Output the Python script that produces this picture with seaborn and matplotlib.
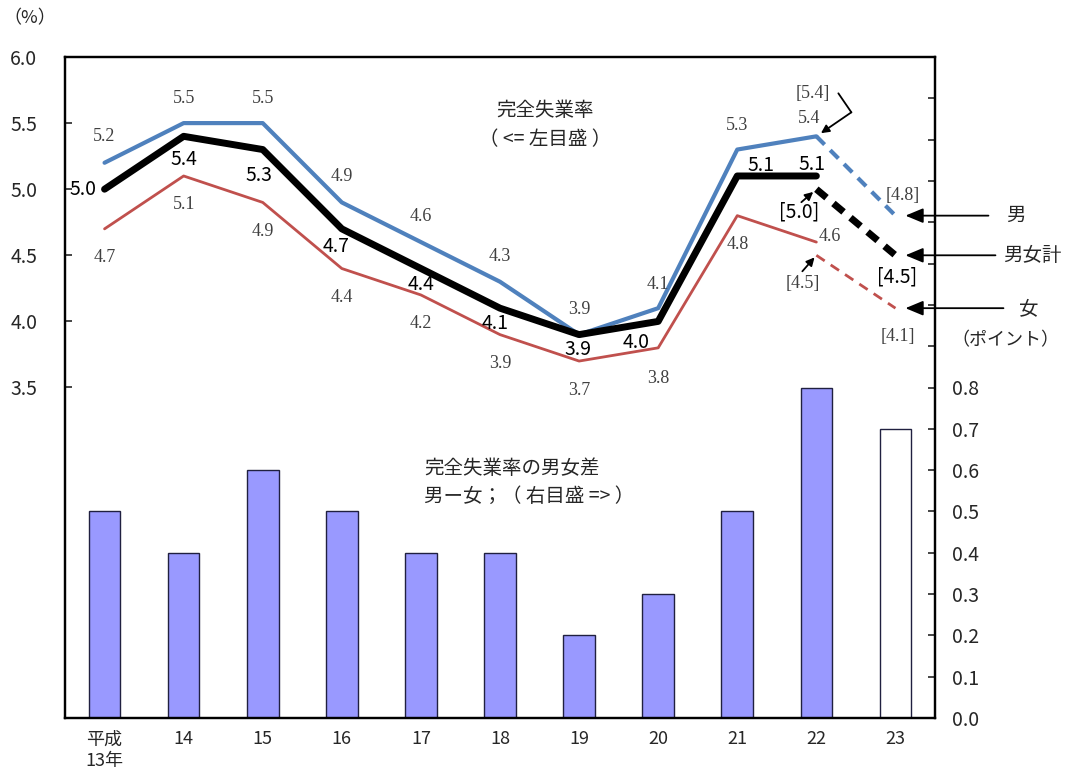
import numpy as np
import pandas as pd
import matplotlib
matplotlib.use("Agg")
import matplotlib.pyplot as plt
from matplotlib.transforms import offset_copy
import seaborn as sns

# --- data ---
years = ["平成\n13年", "14", "15", "16", "17", "18", "19", "20", "21", "22", "23"]
male = [5.2, 5.5, 5.5, 4.9, 4.6, 4.3, 3.9, 4.1, 5.3, 5.4]
total = [5.0, 5.4, 5.3, 4.7, 4.4, 4.1, 3.9, 4.0, 5.1, 5.1]
female = [4.7, 5.1, 4.9, 4.4, 4.2, 3.9, 3.7, 3.8, 4.8, 4.6]
# bracketed values (22 -> 23), drawn dashed
male_est = [5.4, 4.8]
total_est = [5.0, 4.5]
female_est = [4.5, 4.1]
# male - female gap (points), right axis
gap = [0.5, 0.4, 0.6, 0.5, 0.4, 0.4, 0.2, 0.3, 0.5, 0.8, 0.7]

left_ticks = [3.5, 4.0, 4.5, 5.0, 5.5, 6.0]

# label offsets in pixels (dx, dy) relative to each point
male_off = [(0, 26), (0, 25), (0, 25), (0, 26), (0, 26), (0, 25), (0, 25), (0, 24), (0, 24), (-7, 18)]
total_off = [(-22, 0), (0, -23), (-4, -26), (-6, -18), (0, -16), (-5, -15), (-1, -15), (-22, -21), (24, 10), (-4, 11)]
female_off = [(0, -29)] * 7 + [(0, -31), (0, -29), (13, 6)]

BLUE = "#4F81BD"
RED = "#C0504D"
BAR = "#9999FF"
GREY = "#404040"

sns.set_style("white")
plt.rcParams["font.family"] = ["Noto Sans CJK JP", "DejaVu Sans"]
SERIF = ["Liberation Serif", "DejaVu Serif"]

W, H = 1071, 780
fig = plt.figure(figsize=(W / 100, H / 100), dpi=100)
ax_bar = fig.add_axes([65 / W, 1 - 718 / H, 870 / W, 661 / H])
ax_line = ax_bar.twinx()

# bars (right axis)
bar_df = pd.DataFrame({"year": years, "gap": gap})
bar_colors = {y: BAR for y in years}
bar_colors[years[-1]] = "white"
sns.barplot(data=bar_df, x="year", y="gap", hue="year", palette=bar_colors, legend=False,
            saturation=1, width=0.4, edgecolor="#202040", linewidth=1.0, ax=ax_bar)

# lines (left axis)
x = np.arange(len(years))
series = [
    (male, male_est, BLUE, 3.0, (2.8, 1.9)),
    (female, female_est, RED, 2.0, (3.6, 2.6)),
    (total, total_est, "black", 5.0, (1.9, 1.3)),
]
for vals, est, color, lw, dash in series:
    sns.lineplot(x=x[:len(vals)], y=vals, color=color, linewidth=lw, ax=ax_line)
    sns.lineplot(x=x[len(vals) - 1:], y=est, color=color, linewidth=lw, ax=ax_line)
    ax_line.lines[-1].set_linestyle((0, dash))
    ax_line.lines[-1].set_dash_capstyle("butt")

# axes formatting
ax_line.set_xlim(-0.5, len(years) - 0.5)
ax_line.set_ylim(1.0, 6.0)
ax_bar.set_ylim(0, 1.6)
ax_line.yaxis.tick_left()
ax_bar.yaxis.tick_right()
ax_line.set_yticks(left_ticks)
ax_line.set_yticklabels([f"{v:.1f}" for v in left_ticks])
rt = np.round(np.arange(0, 1.65, 0.1), 1)
ax_bar.set_yticks(rt)
ax_bar.set_yticklabels([f"{v:.1f}" if v <= 0.8 else "" for v in rt])
ax_line.tick_params(axis="y", direction="in", length=5, width=1.2, pad=20, labelsize=14)
ax_bar.tick_params(axis="y", direction="in", length=5, width=1.2, pad=12, labelsize=14)
ax_bar.tick_params(axis="x", length=0, pad=9, labelsize=13)
ax_bar.set_xlabel("")
ax_bar.set_ylabel("")
ax_line.set_ylabel("")
for a in (ax_bar, ax_line):
    for s in a.spines.values():
        s.set_color("black")
        s.set_linewidth(1.6)
for lab in ax_bar.get_xticklabels():
    lab.set_linespacing(1.25)

# value labels
def put(val_list, offs, xs, **kw):
    for xi, v, (dx, dy) in zip(xs, val_list, offs):
        ax_line.annotate(f"{v:.1f}", xy=(xi, v), xytext=(dx, dy), textcoords="offset pixels",
                         ha="center", va="center", **kw)

put(male, male_off, x, family=SERIF, color=GREY, fontsize=13)
put(female, female_off, x, family=SERIF, color=GREY, fontsize=13)
put(total, total_off, x, color="black", fontsize=14)

# bracketed labels
def bracket(v, xi, dx, dy, **kw):
    ax_line.annotate(f"[{v:.1f}]", xy=(xi, v), xytext=(dx, dy), textcoords="offset pixels",
                     ha="center", va="center", **kw)

bracket(male_est[0], 9, -4, 43, family=SERIF, color=GREY, fontsize=13)
bracket(male_est[1], 10, 7, 20, family=SERIF, color=GREY, fontsize=13)
bracket(female_est[0], 9, -14, -28, family=SERIF, color=GREY, fontsize=13)
bracket(female_est[1], 10, 2, -28, family=SERIF, color=GREY, fontsize=13)
bracket(total_est[0], 9, -17, -23, color="black", fontsize=14)
bracket(total_est[1], 10, 2, -22, color="black", fontsize=14)

small_arrow = dict(arrowstyle="-|>,head_length=0.6,head_width=0.3", color="black", lw=1.3,
                   mutation_scale=8, shrinkA=0)
ax_line.annotate("", xy=(9, total_est[0]), xytext=(-15, -13), textcoords="offset pixels",
                 arrowprops=dict(small_arrow, shrinkB=3))
ax_line.annotate("", xy=(9, female_est[0]), xytext=(-14, -16), textcoords="offset pixels",
                 arrowprops=dict(small_arrow, shrinkB=2))
ax_line.annotate("", xy=(9, male_est[0]), xytext=(35, 24), textcoords="offset pixels",
                 arrowprops=dict(small_arrow, shrinkB=4))
ax_line.annotate("", xy=(9, male_est[0]), xycoords=offset_copy(ax_line.transData, fig=fig, x=35, y=24, units="dots"),
                 xytext=(-13, 19), textcoords="offset pixels",
                 arrowprops=dict(arrowstyle="-", color="black", lw=1.3, shrinkA=0, shrinkB=0))

# series name arrows on the right
big_arrow = dict(arrowstyle="-|>,head_length=0.6,head_width=0.25", color="black", lw=1.3,
                 mutation_scale=18, shrinkA=0, shrinkB=0)
for name, v, tail, tx in [("男", male_est[1], 93, 120), ("男女計", total_est[1], 100, 137), ("女", female_est[1], 108, 133)]:
    p = offset_copy(ax_line.transData, fig=fig, x=10, y=0, units="dots")
    ax_line.annotate("", xy=(10, v), xycoords=p, xytext=(tail - 10, 0), textcoords="offset pixels",
                     arrowprops=big_arrow, annotation_clip=False)
    ax_line.annotate(name, xy=(10, v), xytext=(tx, 0), textcoords="offset pixels",
                     ha="center", va="center", fontsize=14, annotation_clip=False)

# titles / notes
def px(xp, yp):
    return xp / W, 1 - yp / H

fig.text(*px(545, 110), "完全失業率", ha="center", va="center", fontsize=14)
fig.text(*px(545, 140), "（ <= 左目盛 ）", ha="center", va="center", fontsize=14)
fig.text(*px(424, 468), "完全失業率の男女差", ha="left", va="center", fontsize=14)
fig.text(*px(424, 496), "男ー女；（ 右目盛 => ）", ha="left", va="center", fontsize=14)
fig.text(*px(30, 18), "（%）", ha="center", va="center", fontsize=13)
fig.text(*px(1005, 340), "（ポイント）", ha="center", va="center", fontsize=13)

fig.savefig("out.png", dpi=100)
